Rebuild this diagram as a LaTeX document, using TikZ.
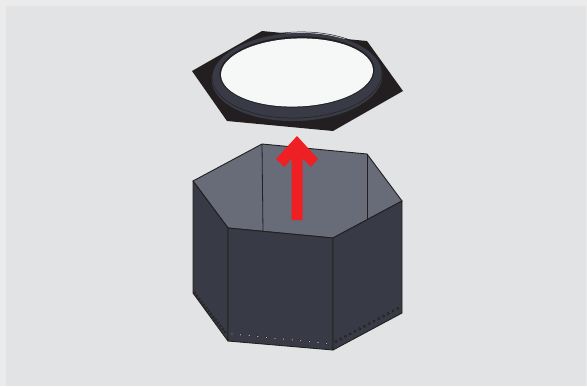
\documentclass[tikz,border=0pt]{standalone}
\usepackage{xcolor}
\definecolor{backdrop}{HTML}{E2E3E5}
\definecolor{strip}{HTML}{EBEBEC}
\definecolor{wall}{HTML}{383B45}
\definecolor{inner}{HTML}{686B78}
\definecolor{edge}{HTML}{231F20}
\definecolor{liftred}{HTML}{EE2024}

\begin{document}
\begin{tikzpicture}[x=1pt, y=-1pt,
    wallface/.style={fill=wall, draw=edge, line width=0.9pt, line join=round},
    innerface/.style={fill=inner, draw=edge, line width=0.9pt, line join=round},
    rivet/.style={fill=#1, draw=edge, line width=0.5pt}]
  \useasboundingbox (0,0) rectangle (587,386);
  \fill[strip] (0,0) rectangle (587,386);
  \fill[backdrop] (6,6) rectangle (586,386);

  % lid
  \fill[edge] (262,31) -- (367,41) -- (403,91) -- (333,131) -- (227,121) -- (192,71) -- cycle;
  \fill[wall, rotate around={2:(297,77)}] (297,77) ellipse [x radius=85.5, y radius=44];
  \draw[edge, line width=0.5pt, rotate around={2:(297,75)}] (297,75) ellipse [x radius=85, y radius=43];
  \fill[edge, rotate around={2:(297,72)}] (297,72) ellipse [x radius=77.5, y radius=35.5];
  \fill[backdrop!30!white, rotate around={2:(297,72.5)}] (297,72.5) ellipse [x radius=76, y radius=34];

  % box, inside
  \path[innerface] (262,144) -- (367,154) -- (402,201) -- (333,238) -- (228,228) -- (193,181) -- cycle;
  \draw[edge, line width=0.8pt] (262,144) -- (263,232);
  \draw[edge, line width=0.8pt] (367,154) -- (367,219);

  % box, outside
  \path[wallface] (193,181) -- (228,228) -- (228,341) -- (193,293) -- cycle;
  \path[wallface] (228,228) -- (333,238) -- (333,350) -- (228,341) -- cycle;
  \path[wallface] (333,238) -- (402,201) -- (402,313) -- (333,350) -- cycle;

  % rivets
  \foreach \i in {0,...,11}
    \path[rivet=white!85!black] ({232+\i*8.6},{334+\i*0.85}) circle [radius=1.3];
  \foreach \i in {0,...,13}
    \path[rivet=wall] ({336+\i*4.75},{341.5-\i*2.55}) circle [radius=1.2];
  \foreach \i in {0,...,13}
    \path[rivet=wall] ({194.5+\i*2.35},{293-\i*-3.0}) circle [radius=1.2];

  % arrow
  \fill[liftred] (291.7,220) -- (291.7,158.5) -- (284.5,167) -- (276,159) -- (297,136)
    -- (318,159) -- (311,167) -- (302.7,158.5) -- (302.7,220) -- cycle;
\end{tikzpicture}
\end{document}
